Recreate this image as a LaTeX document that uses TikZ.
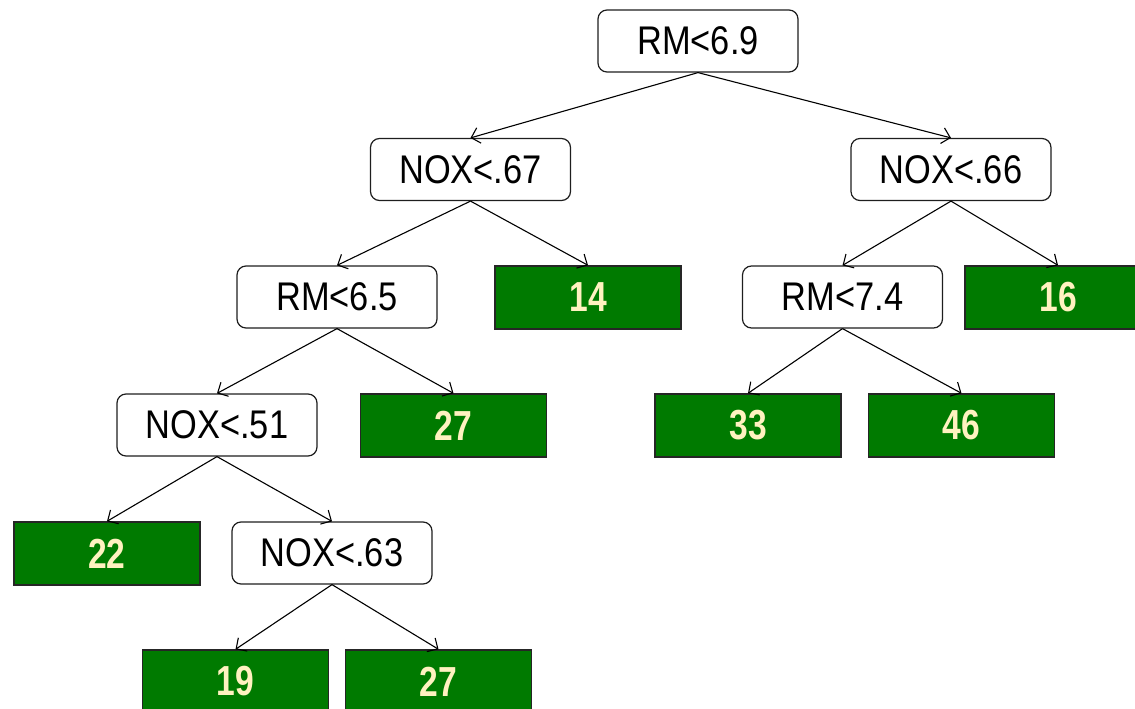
\documentclass[tikz,border=0pt]{standalone}
\usepackage{fontspec}
\usetikzlibrary{arrows.meta}
\newfontfamily\splitfont[FakeStretch=0.86]{Liberation Sans}
\newfontfamily\leaffont[FakeStretch=0.8]{Liberation Sans}
\definecolor{leafgreen}{RGB}{0,122,0}
\definecolor{leaftext}{RGB}{255,242,192}
\definecolor{edgegray}{RGB}{30,30,30}
\begin{document}
\begin{tikzpicture}[x=1pt,y=-1pt,
  split/.style={draw=edgegray,line width=1.2pt,rounded corners=9pt,fill=white,
    minimum width=200pt,minimum height=62pt,inner sep=0pt,
    font=\splitfont\fontsize{40}{46}\selectfont},
  leaf/.style={draw=black!85,line width=1.4pt,fill=leafgreen,
    minimum width=186pt,minimum height=63pt,inner sep=0pt,text=leaftext,
    font=\leaffont\bfseries\fontsize{42}{48}\selectfont},
  edge/.style={line width=1.1pt,-{Straight Barb[length=8pt,width=16pt,line width=1.1pt]}}]
\useasboundingbox (0,0) rectangle (1135,709);
\clip (0,0) rectangle (1135,709);
\node[split] (r) at (698,41) {RM<6.9};
\node[split] (a) at (470.5,169.5) {NOX<.67};
\node[split] (b) at (951,169.5) {NOX<.66};
\node[split] (c) at (337,297) {RM<6.5};
\node[leaf] (l14) at (588,297.5) {14};
\node[split] (d) at (842.5,297) {RM<7.4};
\node[leaf] (l16) at (1058,297.5) {16};
\node[split] (e) at (217,425) {NOX<.51};
\node[leaf] (l27a) at (453.5,425.5) {27};
\node[leaf] (l33) at (748,425.5) {33};
\node[leaf] (l46) at (961.5,425.5) {46};
\node[leaf] (l22) at (107,553.5) {22};
\node[split] (f) at (332,553) {NOX<.63};
\node[leaf] (l19) at (235.5,681.5) {19};
\node[leaf] (l27b) at (438.5,681.5) {27};
\draw[edge] (r.south) -- (a.north);
\draw[edge] (r.south) -- (b.north);
\draw[edge] (a.south) -- (c.north);
\draw[edge] (a.south) -- (l14.north);
\draw[edge] (b.south) -- (d.north);
\draw[edge] (b.south) -- (l16.north);
\draw[edge] (c.south) -- (e.north);
\draw[edge] (c.south) -- (l27a.north);
\draw[edge] (d.south) -- (l33.north);
\draw[edge] (d.south) -- (l46.north);
\draw[edge] (e.south) -- (l22.north);
\draw[edge] (e.south) -- (f.north);
\draw[edge] (f.south) -- (l19.north);
\draw[edge] (f.south) -- (l27b.north);
\end{tikzpicture}
\end{document}
